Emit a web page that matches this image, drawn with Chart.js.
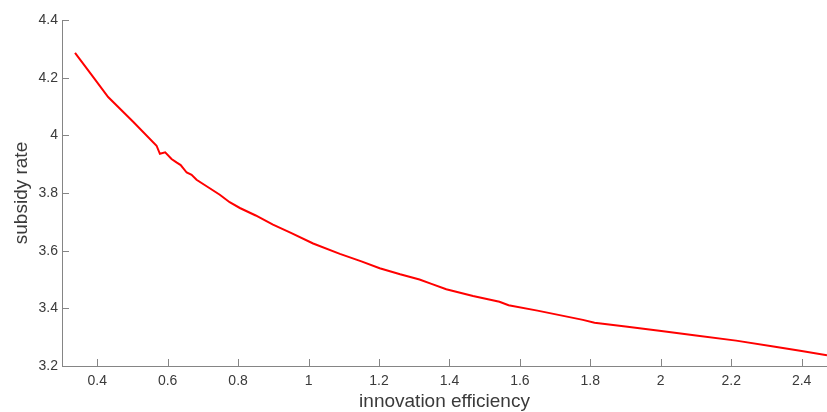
<!DOCTYPE html>
<html>
<head>
<meta charset="utf-8">
<title>subsidy rate vs innovation efficiency</title>
<script src="https://cdn.jsdelivr.net/npm/chart.js@4/dist/chart.umd.min.js"></script>
<style>
  html, body { margin: 0; padding: 0; background: #ffffff; }
  #wrap { width: 827px; height: 412px; position: relative; }
</style>
</head>
<body>
<div id="wrap"><canvas id="chart"></canvas></div>
<script>
// innovation efficiency (x) and the resulting subsidy rate (y)
const efficiency = [
  0.337, 0.384, 0.431, 0.502, 0.5685, 0.578, 0.593, 0.611, 0.625, 0.637,
  0.654, 0.668, 0.682, 0.715, 0.748, 0.776, 0.805, 0.850, 0.899, 0.950,
  1.013, 1.089, 1.150, 1.202, 1.260, 1.315, 1.349, 1.391, 1.467, 1.542,
  1.568, 1.650, 1.779, 1.812, 1.900, 1.996, 2.100, 2.214, 2.320, 2.400,
  2.472
];
const subsidy = [
  4.286, 4.210, 4.133, 4.047, 3.964, 3.936, 3.941, 3.918, 3.906, 3.897,
  3.871, 3.863, 3.846, 3.820, 3.794, 3.768, 3.748, 3.722, 3.690, 3.662,
  3.625, 3.589, 3.563, 3.539, 3.518, 3.500, 3.485, 3.466, 3.443, 3.423,
  3.411, 3.392, 3.360, 3.350, 3.337, 3.322, 3.306, 3.288, 3.268, 3.252,
  3.237
];

// tick values shown on each axis
const xTicks = [0.4, 0.6, 0.8, 1, 1.2, 1.4, 1.6, 1.8, 2, 2.2, 2.4];
const yTicks = [3.2, 3.4, 3.6, 3.8, 4, 4.2, 4.4];

const axisColor = '#858585';
const textColor = '#3a3a3a';
const fontFamily = '"Liberation Sans", Arial, Helvetica, sans-serif';

// short tick marks drawn inward from the axis lines
const innerTicks = {
  id: 'innerTicks',
  afterDatasetsDraw(chart) {
    const { ctx, chartArea, scales } = chart;
    const len = 7;
    ctx.save();
    ctx.strokeStyle = axisColor;
    ctx.lineWidth = 1;
    ctx.beginPath();
    scales.x.ticks.forEach(t => {
      const px = Math.round(scales.x.getPixelForValue(t.value)) + 0.5;
      ctx.moveTo(px, chartArea.bottom);
      ctx.lineTo(px, chartArea.bottom - len);
    });
    scales.y.ticks.forEach(t => {
      const py = Math.round(scales.y.getPixelForValue(t.value)) + 0.5;
      ctx.moveTo(chartArea.left, py);
      ctx.lineTo(chartArea.left + len, py);
    });
    ctx.stroke();
    ctx.restore();
  }
};

new Chart(document.getElementById('chart'), {
  type: 'line',
  data: {
    datasets: [{
      data: efficiency.map((x, i) => ({ x: x, y: subsidy[i] })),
      borderColor: '#ff0000',
      borderWidth: 2,
      pointRadius: 0,
      tension: 0,
      fill: false
    }]
  },
  options: {
    responsive: true,
    maintainAspectRatio: false,
    animation: false,
    layout: { padding: { top: 20, right: 0, bottom: 0, left: 0 } },
    plugins: {
      legend: { display: false },
      tooltip: { enabled: false }
    },
    scales: {
      x: {
        type: 'linear',
        min: 0.3,
        max: 2.472,
        afterBuildTicks: s => { s.ticks = xTicks.map(v => ({ value: v })); },
        afterFit: s => { s.height = 46; },
        grid: { display: false, drawTicks: false },
        border: { display: true, color: axisColor, width: 1 },
        ticks: {
          padding: 7,
          color: textColor,
          font: { family: fontFamily, size: 14 },
          maxRotation: 0,
          callback: v => String(v)
        },
        title: {
          display: true,
          text: 'innovation efficiency',
          color: textColor,
          font: { family: fontFamily, size: 19, lineHeight: 1.1 },
          padding: { top: 0, bottom: 0 }
        }
      },
      y: {
        type: 'linear',
        min: 3.2,
        max: 4.4,
        afterBuildTicks: s => { s.ticks = yTicks.map(v => ({ value: v })); },
        afterFit: s => { s.width = 62; },
        grid: { display: false, drawTicks: false },
        border: { display: true, color: axisColor, width: 1 },
        ticks: {
          padding: 4,
          color: textColor,
          font: { family: fontFamily, size: 14 },
          callback: v => String(v)
        },
        title: {
          display: true,
          text: 'subsidy rate',
          color: textColor,
          font: { family: fontFamily, size: 19, lineHeight: 1.1 },
          padding: { top: 11, bottom: 0 }
        }
      }
    }
  },
  plugins: [innerTicks]
});
</script>
</body>
</html>
